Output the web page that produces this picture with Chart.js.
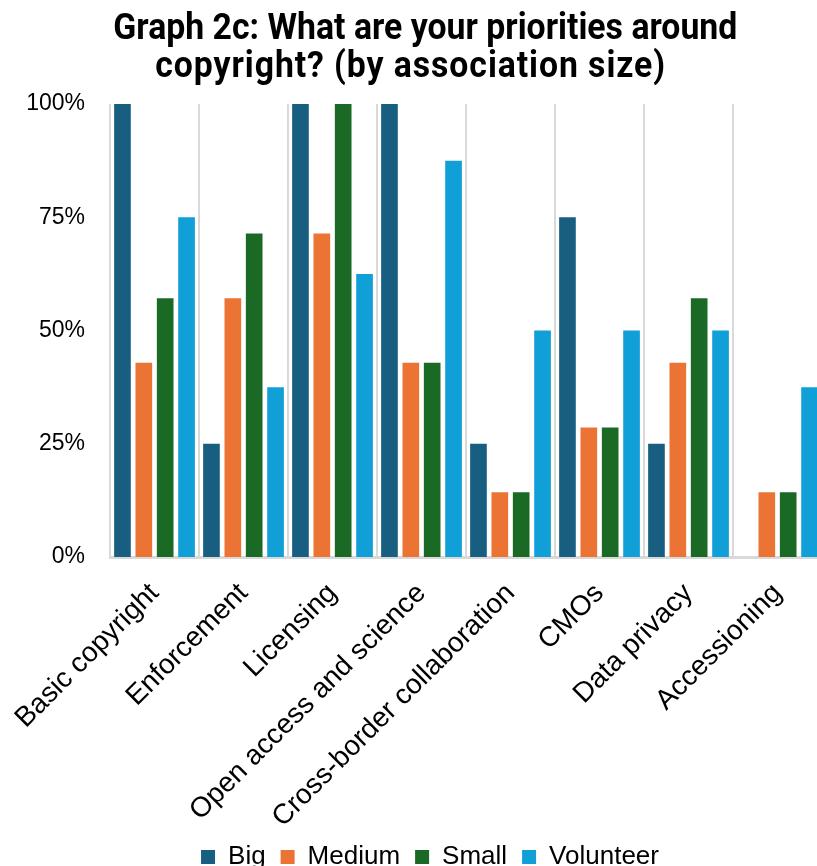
<!DOCTYPE html>
<html>
<head>
<meta charset="utf-8">
<script src="https://cdn.jsdelivr.net/npm/chart.js@4"></script>
<style>
  html, body { margin: 0; padding: 0; background: #fff; overflow: hidden; }
  #wrap { position: relative; width: 822px; height: 880px; }
  #title {
    position: absolute; left: 0; top: 8px; width: 836px;
    font-family: Roboto, 'Liberation Sans', sans-serif; font-weight: bold;
    font-size: 37px; line-height: 38px; color: #000; text-align: center;
    transform-origin: 418px 0;
  }
  #title div { white-space: nowrap; position: relative; }
  #title .l1 { left: 8px; }
  #title .l2 { left: -8px; letter-spacing: 1px; }
</style>
</head>
<body>
<div id="wrap">
  <canvas id="chart"></canvas>
  <div id="title">
    <div class="l1"><span>Graph 2c: What are your priorities around</span></div>
    <div class="l2"><span>copyright? (by association size)</span></div>
  </div>
</div>
<script>
// 분류별 우선순위 (협회 규모별, 응답 비율 %)
const categories = [
  'Basic copyright', 'Enforcement', 'Licensing', 'Open access and science',
  'Cross-border collaboration', 'CMOs', 'Data privacy', 'Accessioning'
];
const bigValues       = [100, 25, 100, 100, 25, 75, 25, 0];
const mediumValues    = [42.86, 57.14, 71.43, 42.86, 14.29, 28.57, 42.86, 14.29];
const smallValues     = [57.14, 71.43, 100, 42.86, 14.29, 28.57, 57.14, 14.29];
const volunteerValues = [75, 37.5, 62.5, 87.5, 50, 50, 50, 37.5];
const yTicks = [0, 25, 50, 75, 100];

const seriesNames  = ['Big', 'Medium', 'Small', 'Volunteer'];
const seriesColors = ['#175e81', '#eb7334', '#1a6a25', '#109fd6'];
const seriesData   = [bigValues, mediumValues, smallValues, volunteerValues];

const baseFont = "'Liberation Sans', Arial, sans-serif";

// 제목 폭을 좁은 글꼴처럼 맞춤 (첫 줄 624px)
const $title = document.getElementById('title');
const firstLine = $title.querySelector('span');
const titleScale = 624 / firstLine.getBoundingClientRect().width;
$title.style.transform = `scaleX(${titleScale})`;

// 범례를 오른쪽으로 조금 이동
const legendShift = {
  id: 'legendShift',
  afterLayout(chart) {
    chart.legend.left += 19;
    chart.legend.right += 19;
  }
};

new Chart(document.getElementById('chart'), {
  type: 'bar',
  data: {
    labels: categories,
    datasets: seriesNames.map((name, i) => ({
      label: name,
      data: seriesData[i],
      backgroundColor: seriesColors[i],
      borderWidth: 0,
      barPercentage: 0.78,
      categoryPercentage: 0.96
    }))
  },
  plugins: [legendShift],
  options: {
    responsive: true,
    maintainAspectRatio: false,
    animation: false,
    layout: { padding: { left: 0, right: 0, top: 104, bottom: 0 } },
    plugins: {
      title: { display: false },
      legend: {
        position: 'bottom',
        labels: {
          color: '#000',
          font: { family: baseFont, size: 26 },
          boxWidth: 14,
          boxHeight: 14,
          padding: 15
        }
      },
      tooltip: { enabled: false }
    },
    scales: {
      x: {
        afterFit: scale => {
          scale.height = 272;
          scale.paddingLeft = 0;
          scale.paddingRight = 0;
        },
        grid: {
          display: true,
          offset: true,
          color: '#d9d9d9',
          lineWidth: 2,
          drawTicks: false
        },
        border: { display: true, color: '#d9d9d9', width: 3 },
        ticks: {
          color: '#000',
          font: { family: baseFont, size: 28 },
          minRotation: 45,
          maxRotation: 45,
          padding: 20
        }
      },
      y: {
        min: 0,
        max: 100,
        afterBuildTicks: scale => { scale.ticks = yTicks.map(v => ({ value: v })); },
        afterFit: scale => { scale.width = 110; },
        grid: { display: false, drawTicks: false },
        border: { display: false },
        ticks: {
          color: '#000',
          font: { family: baseFont, size: 23 },
          padding: 25,
          callback: v => v + '%'
        }
      }
    }
  }
});
</script>
</body>
</html>
